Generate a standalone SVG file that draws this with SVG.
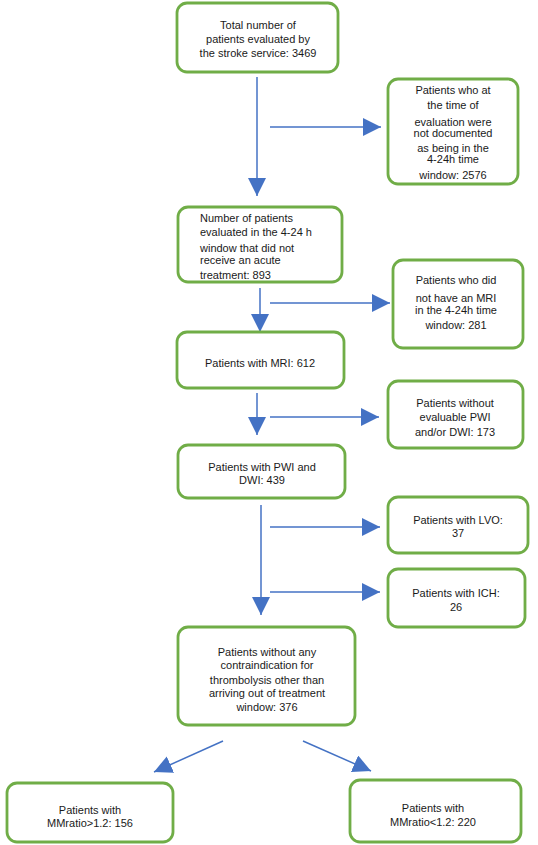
<svg xmlns="http://www.w3.org/2000/svg" width="538" height="845" viewBox="0 0 538 845">
<style>
.box{fill:#fff;stroke:#70AD47;stroke-width:2.8}
text{font-family:"Liberation Sans",Arial,sans-serif;font-size:11px;fill:#1a1a1a}
.c{text-anchor:middle}
.con{stroke:#4472C4;stroke-width:1.5;fill:none;marker-end:url(#ah)}
</style>
<defs>
<marker id="ah" markerUnits="userSpaceOnUse" markerWidth="19" markerHeight="19" refX="18" refY="9" orient="auto">
<path d="M0,0 L18,9 L0,18 z" fill="#4472C4"/>
</marker>
</defs>
<rect width="538" height="845" fill="#fff"/>
<g id="connectors">
<line class="con" x1="257" y1="77" x2="257" y2="196"/>
<line class="con" x1="270" y1="127" x2="381" y2="127"/>
<line class="con" x1="260" y1="288" x2="260" y2="332"/>
<line class="con" x1="270" y1="303" x2="390" y2="303"/>
<line class="con" x1="257" y1="393" x2="257" y2="435"/>
<line class="con" x1="270" y1="417" x2="379" y2="417"/>
<line class="con" x1="261" y1="505" x2="261" y2="615"/>
<line class="con" x1="270" y1="527" x2="380" y2="527"/>
<line class="con" x1="270" y1="592" x2="380" y2="592"/>
<line class="con" x1="223" y1="741" x2="154" y2="772"/>
<line class="con" x1="303" y1="741" x2="371" y2="771"/>
</g>
<g id="n1">
<rect class="box" x="177" y="3" width="161" height="69" rx="10"/>
<text class="c" x="258" y="29">Total number of</text>
<text class="c" x="258" y="43">patients evaluated by</text>
<text class="c" x="258" y="57">the stroke service: 3469</text>
</g>
<g id="n2">
<rect class="box" x="388" y="79" width="130" height="105" rx="10"/>
<text class="c" x="453" y="94">Patients who at</text>
<text class="c" x="453" y="109">the time of</text>
<text class="c" x="453" y="126">evaluation were</text>
<text class="c" x="453" y="137">not documented</text>
<text class="c" x="453" y="152">as being in the</text>
<text class="c" x="453" y="163">4-24h time</text>
<text class="c" x="453" y="179">window: 2576</text>
</g>
<g id="n3">
<rect class="box" x="178" y="207" width="164" height="75" rx="10"/>
<text x="200" y="222">Number of patients</text>
<text x="200" y="236">evaluated in the 4-24 h</text>
<text x="200" y="252">window that did not</text>
<text x="200" y="264">receive an acute</text>
<text x="200" y="279">treatment: 893</text>
</g>
<g id="n4">
<rect class="box" x="393" y="260" width="130" height="88" rx="10"/>
<text class="c" x="456" y="284">Patients who did</text>
<text class="c" x="456" y="302">not have an MRI</text>
<text class="c" x="456" y="314">in the 4-24h time</text>
<text class="c" x="456" y="329">window: 281</text>
</g>
<g id="n5">
<rect class="box" x="177" y="332" width="167" height="56" rx="10"/>
<text class="c" x="260" y="367">Patients with MRI: 612</text>
</g>
<g id="n6">
<rect class="box" x="388" y="381" width="135" height="67" rx="10"/>
<text class="c" x="455" y="407">Patients without</text>
<text class="c" x="455" y="421">evaluable PWI</text>
<text class="c" x="455" y="436">and/or DWI: 173</text>
</g>
<g id="n7">
<rect class="box" x="178" y="445" width="167" height="53" rx="10"/>
<text class="c" x="262" y="471">Patients with PWI and</text>
<text class="c" x="262" y="484">DWI: 439</text>
</g>
<g id="n8">
<rect class="box" x="388" y="497" width="140" height="56" rx="10"/>
<text class="c" x="458" y="524">Patients with LVO:</text>
<text class="c" x="458" y="537">37</text>
</g>
<g id="n9">
<rect class="box" x="388" y="569" width="137" height="58" rx="10"/>
<text class="c" x="456" y="597">Patients with ICH:</text>
<text class="c" x="456" y="611">26</text>
</g>
<g id="n10">
<rect class="box" x="178" y="627" width="177" height="98" rx="10"/>
<text class="c" x="267" y="656">Patients without any</text>
<text class="c" x="267" y="669">contraindication for</text>
<text class="c" x="267" y="684">thrombolysis other than</text>
<text class="c" x="267" y="697">arriving out of treatment</text>
<text class="c" x="267" y="711">window: 376</text>
</g>
<g id="n11">
<rect class="box" x="7" y="783" width="166" height="59" rx="10"/>
<text class="c" x="90" y="814">Patients with</text>
<text class="c" x="90" y="827">MMratio&gt;1.2: 156</text>
</g>
<g id="n12">
<rect class="box" x="350" y="780" width="171" height="62" rx="10"/>
<text class="c" x="433" y="812">Patients with</text>
<text class="c" x="433" y="826">MMratio&lt;1.2: 220</text>
</g>
</svg>
